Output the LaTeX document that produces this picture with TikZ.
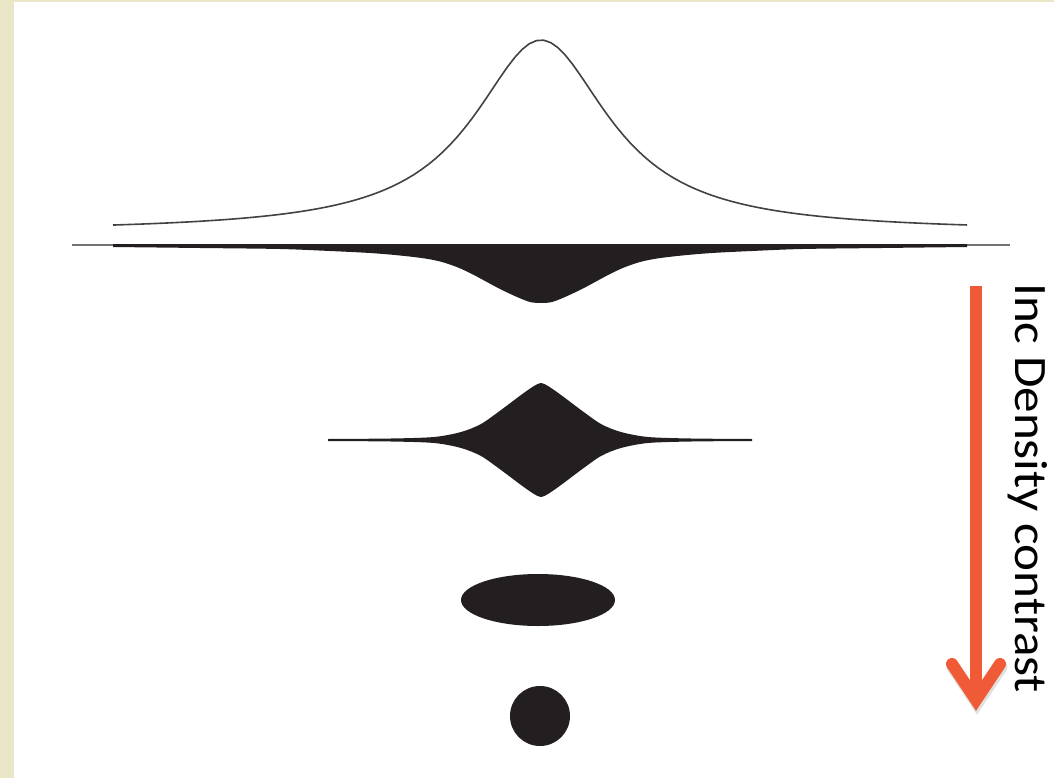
\documentclass[tikz,border=0pt]{standalone}
\usepackage{fontspec}
\setmainfont{Carlito}
\usepackage{xcolor}
\definecolor{slidebg}{RGB}{234,230,200}
\definecolor{ink}{RGB}{35,31,32}
\definecolor{arroworange}{RGB}{240,90,55}

\begin{document}
\begin{tikzpicture}[x=1pt,y=-1pt,
profile/.style={draw=ink!85, line width=1.6pt},
axisline/.style={draw=black!55, line width=1.8pt},
blob/.style={fill=ink, draw=none},
arrowline/.style={draw=arroworange, line width=12pt},
arrowshadow/.style={draw=black, opacity=0.12, line width=13pt},
sidetext/.style={font=\fontsize{46.5}{56}\selectfont, inner sep=0pt, rotate=-90, xscale=1.1}
]
% page and slide border
\useasboundingbox (0,0) rectangle (1054,778);
\fill[white] (0,0) rectangle (1054,778);
\fill[slidebg] (0,0) rectangle (14,778);
\fill[slidebg] (0,0) rectangle (1054,2);

% density profile
\draw[profile] plot[domain=113:967, samples=120] (\x, {232-192/(1+((\x-541)/83)^2)});

% axis and hanging structure
\draw[axisline] (72,245) -- (1010,245);
\fill[blob] (113,244) -- plot[smooth] coordinates {(113,247) (200,248) (280,249) (330,251) (370,253) (400,255.5) (425,258.5) (442,262) (458,267.5) (472,274) (486,281.5) (500,289) (517,297) (530,302) (541,303) (552,302) (565,297) (582,289) (596,281.5) (610,274) (624,267.5) (640,262) (657,258.5) (682,255.5) (712,253) (752,251) (802,249) (882,248) (967,247)} -- (967,244) -- cycle;

% collapsing filament
\draw[ink, line width=2pt] (328,440) -- (752,440);
\fill[blob] plot[smooth] coordinates {(328,439) (391,438.5) (434,437) (461,432) (481,424) (501,410) (521,395) (534,386) (541,383) (548,386) (561,395) (581,410) (601,424) (621,432) (648,437) (691,438.5) (752,439)}
  -- plot[smooth] coordinates {(752,441) (691,441.5) (648,443) (621,448) (601,456) (581,470) (561,485) (548,494) (541,497) (534,494) (521,485) (501,470) (481,456) (461,448) (434,443) (391,441.5) (328,441)} -- cycle;

% later stages
\fill[blob] (538,600) ellipse [x radius=77pt, y radius=26pt];
\fill[blob] (540,716) circle [radius=30pt];

% arrow and label
\coordinate (arrowtop) at (976,286);
\coordinate (arrowtip) at (976,700);
\coordinate (wingleft) at (952,664);
\coordinate (wingright) at (1000,664);
\draw[arrowshadow, line cap=round, line join=miter] ([shift={(1,3)}]wingleft) -- ([shift={(1,3)}]arrowtip) -- ([shift={(1,3)}]wingright);
\draw[arrowline] (arrowtop) -- (arrowtip);
\draw[arrowline, line cap=round, line join=miter] (wingleft) -- (arrowtip) -- (wingright);
\node[sidetext, anchor=base west] (densitylabel) at (1015,283) {Inc Density contrast};
\end{tikzpicture}
\end{document}
